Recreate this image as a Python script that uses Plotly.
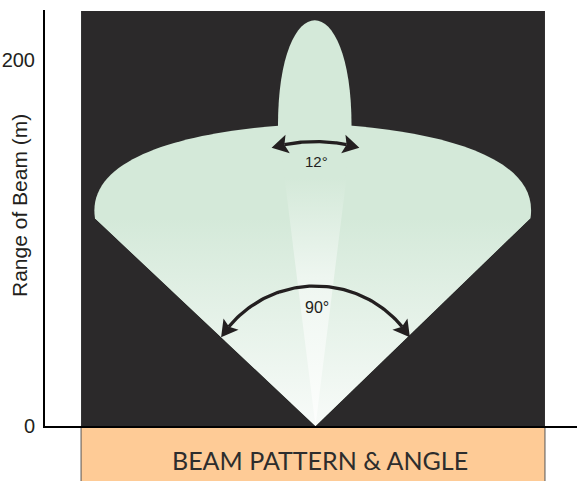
import numpy as np
import plotly.graph_objects as go

# ---------------- data (metres) ----------------
y_tick_vals = [0, 200]
y_tick_text = ["0", "200"]
y_title = "Range of Beam (m)"
caption = "BEAM PATTERN & ANGLE"

x_range = [-147.8, 142.9]
y_range = [0, 227.3]

panel_x = [-128.1, 125.4]      # dark panel / caption band extent
panel_top = 226.8

# wide (90 deg) beam outline
apex = [0.0, 0.0]
wide_corner_left = [-120.5, 113.5]
wide_corner_right = [117.5, 113.7]
wide_top = [0.0, 165.3]
wide_left_ctrl_x = [-126.0, -60.0]
wide_left_ctrl_y = [150.0, 163.0]
wide_right_ctrl_x = [58.0, 123.0]
wide_right_ctrl_y = [163.0, 150.0]

# narrow (12 deg) beam outline
narrow_shoulder_x = [-20.5, 19.7]
narrow_shoulder_y = 163.9
narrow_ctrl_y = 241.0           # gives a beam range of ~222 m
narrow_glow_top = 135.5
narrow_glow_half = 16.9

# angle arcs: centre y, radius, tip angle (deg from vertical)
arc_names = ["12°", "90°"]
arc_center_y = [68.4, 15.0]
arc_radius = [87.0, 61.5]
arc_tip_deg = [16.0, 57.0]
label_x = [0.5, 1.0]
label_y = [144.5, 64.5]
label_size = [15, 16]

INK = "#231f20"
GREEN = "#d4e9d9"

fig = go.Figure()

# ---------------- background shapes ----------------
shapes = []
shapes.append(dict(type="rect", xref="x", yref="y", x0=panel_x[0], x1=panel_x[1],
                   y0=0, y1=panel_top, fillcolor="#2b292a", line=dict(width=0), layer="below"))
shapes.append(dict(type="rect", xref="x", yref="paper", x0=panel_x[0], x1=panel_x[1],
                   y0=-0.003, y1=-0.16, fillcolor="#fecb96",
                   line=dict(width=1, color="#555555"), layer="below"))

def P(x, y):
    return f"{x},{y}"

wide_path = (f"M {P(*apex)} L {P(*wide_corner_left)} "
             f"C {P(wide_left_ctrl_x[0], wide_left_ctrl_y[0])} {P(wide_left_ctrl_x[1], wide_left_ctrl_y[1])} {P(*wide_top)} "
             f"C {P(wide_right_ctrl_x[0], wide_right_ctrl_y[0])} {P(wide_right_ctrl_x[1], wide_right_ctrl_y[1])} {P(*wide_corner_right)} Z")
shapes.append(dict(type="path", xref="x", yref="y", path=wide_path, fillcolor=GREEN,
                   line=dict(width=0), layer="below"))

narrow_path = (f"M {P(*apex)} L {P(narrow_shoulder_x[0], narrow_shoulder_y)} "
               f"C {P(narrow_shoulder_x[0], narrow_ctrl_y)} {P(narrow_shoulder_x[1], narrow_ctrl_y)} "
               f"{P(narrow_shoulder_x[1], narrow_shoulder_y)} Z")
shapes.append(dict(type="path", xref="x", yref="y", path=narrow_path, fillcolor=GREEN,
                   line=dict(width=0), layer="below"))

# ---------------- gradient glows ----------------
fig.add_trace(go.Scatter(
    x=[apex[0], wide_corner_left[0], wide_corner_right[0], apex[0]],
    y=[apex[1], wide_corner_left[1], wide_corner_right[1], apex[1]],
    mode="lines", fill="toself", line=dict(width=0, color=GREEN),
    fillgradient=dict(type="vertical", colorscale=[[0, "#f8fbf9"], [1, GREEN]],
                      start=0, stop=wide_corner_left[1]),
    hoverinfo="skip", showlegend=False))

fig.add_trace(go.Scatter(
    x=[apex[0], -narrow_glow_half, narrow_glow_half, apex[0]],
    y=[apex[1], narrow_glow_top, narrow_glow_top, apex[1]],
    mode="lines", fill="toself", line=dict(width=0, color=GREEN),
    fillgradient=dict(type="vertical",
                      colorscale=[[0, "#fdfefd"], [0.6, "#eef6f0"], [1, GREEN]],
                      start=0, stop=narrow_glow_top),
    hoverinfo="skip", showlegend=False))

# ---------------- arcs with arrowheads ----------------
HEAD_LEN, HEAD_W, NOTCH = 9.0, 10.3, 1.8

def head(cy, r, th_deg):
    th = np.radians(th_deg)
    tip = np.array([r * np.sin(th), cy + r * np.cos(th)])
    thb = th - np.sign(th) * HEAD_LEN / r
    base = np.array([r * np.sin(thb), cy + r * np.cos(thb)])
    d = (tip - base) / np.linalg.norm(tip - base)
    n = np.array([-d[1], d[0]])
    pts = [tip, base + n * HEAD_W / 2, base + d * NOTCH, base - n * HEAD_W / 2, tip]
    return [p[0] for p in pts], [p[1] for p in pts]

for cy, r, tdeg in zip(arc_center_y, arc_radius, arc_tip_deg):
    end = np.degrees(np.radians(tdeg) - (HEAD_LEN - NOTCH) / r)
    th = np.radians(np.linspace(-end, end, 80))
    fig.add_trace(go.Scatter(x=r * np.sin(th), y=cy + r * np.cos(th), mode="lines",
                             line=dict(color=INK, width=3.3), hoverinfo="skip", showlegend=False))
    for s in (-1, 1):
        hx, hy = head(cy, r, s * tdeg)
        fig.add_trace(go.Scatter(x=hx, y=hy, mode="lines", fill="toself", fillcolor=INK,
                                 line=dict(width=0, color=INK), hoverinfo="skip", showlegend=False))

annotations = []
for name, lx, ly, fs in zip(arc_names, label_x, label_y, label_size):
    annotations.append(dict(x=lx, y=ly, xref="x", yref="y", text=name, showarrow=False,
                            xanchor="center", yanchor="middle",
                            font=dict(family="Liberation Sans, Arial", size=fs, color=INK)))

annotations.append(dict(x=-0.048, y=0.53, xref="paper", yref="paper", text=y_title,
                        textangle=-90, showarrow=False, xanchor="center", yanchor="middle",
                        font=dict(family="Liberation Sans, Arial", size=21, color=INK)))
annotations.append(dict(x=0.517, y=-0.082, xref="paper", yref="paper", text=caption,
                        showarrow=False, xanchor="center", yanchor="middle",
                        font=dict(family="Lato", size=25, color="#2d2d2d")))

fig.update_layout(
    width=577, height=481,
    margin=dict(l=45, r=0, t=10, b=55),
    paper_bgcolor="white", plot_bgcolor="white",
    shapes=shapes, annotations=annotations,
    showlegend=False,
    xaxis=dict(range=x_range, showline=True, linecolor="black", linewidth=2,
               showticklabels=False, ticks="", showgrid=False, zeroline=False,
               fixedrange=True, automargin=False),
    yaxis=dict(range=y_range, showline=True, linecolor="black", linewidth=2,
               tickvals=y_tick_vals, ticktext=y_tick_text, ticks="",
               ticklabelstandoff=4,
               tickfont=dict(family="Liberation Sans, Arial", size=20, color=INK),
               showgrid=False, zeroline=False, fixedrange=True, automargin=False),
)

# remove the browser's default 8px body margin so the figure sits at the page origin
fig.write_html("out.html", config={"displayModeBar": False},
               post_script="document.body.style.margin='0px';")
